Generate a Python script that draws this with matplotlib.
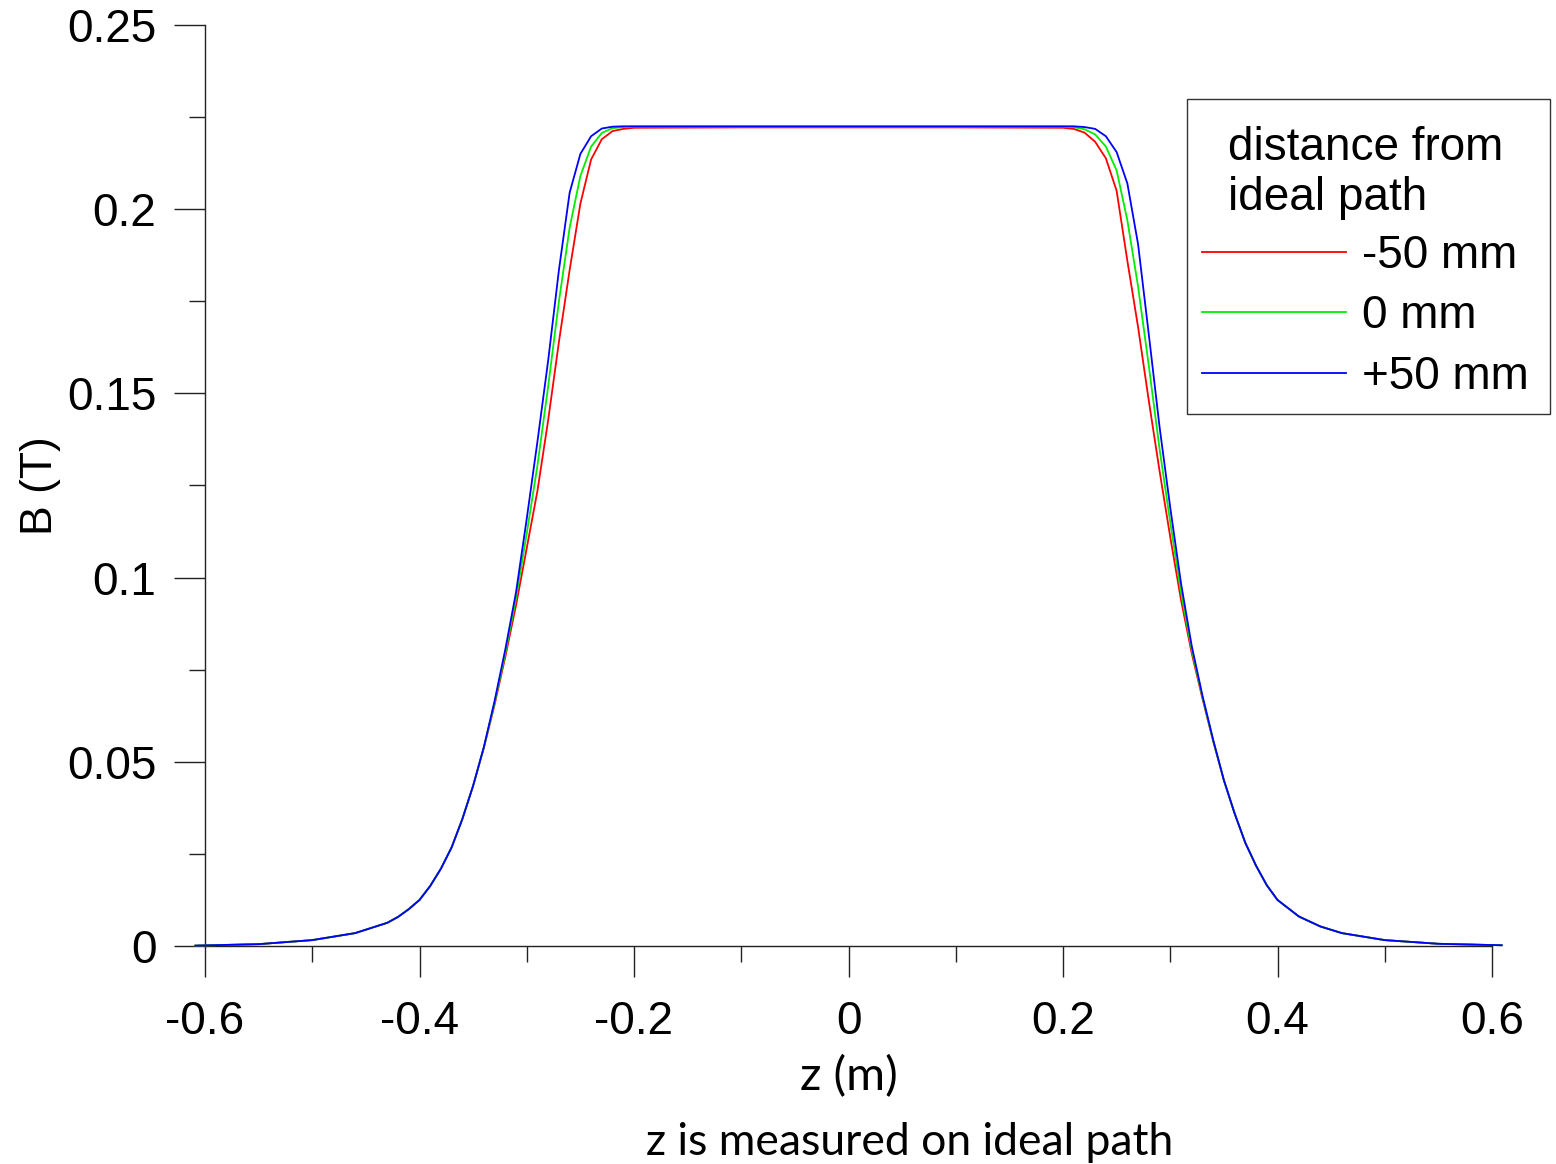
import matplotlib
matplotlib.use("Agg")
import matplotlib.pyplot as plt
from matplotlib.patches import Rectangle
from matplotlib.ticker import MultipleLocator

# ---------------- data ----------------
z = [-0.609, -0.55, -0.50, -0.46, -0.43, -0.42, -0.41,
     -0.40, -0.39, -0.38, -0.37, -0.36, -0.35, -0.34, -0.33, -0.32, -0.31,
     -0.30, -0.29, -0.28, -0.27, -0.26, -0.25, -0.24, -0.23, -0.22, -0.21,
     -0.20, -0.10, 0.00, 0.10,
     0.20, 0.21, 0.22, 0.23, 0.24, 0.25, 0.26, 0.27, 0.28, 0.29,
     0.30, 0.31, 0.32, 0.33, 0.34, 0.35, 0.36, 0.37, 0.38, 0.39,
     0.40, 0.42, 0.44, 0.46, 0.50, 0.55, 0.609]

b_minus50 = [0.0001, 0.0005, 0.0016, 0.0035, 0.0063, 0.0079, 0.0100,
             0.0125, 0.0163, 0.0210, 0.0268, 0.0345, 0.0435, 0.0538, 0.0655, 0.0785, 0.0925,
             0.1080, 0.1236, 0.1428, 0.1640, 0.1835, 0.2015, 0.2135, 0.2190, 0.2212, 0.2218,
             0.2221, 0.2222, 0.2222, 0.2222,
             0.2221, 0.2218, 0.2208, 0.2183, 0.2138, 0.2050, 0.1860, 0.1680, 0.1480, 0.1290,
             0.1110, 0.0940, 0.0795, 0.0672, 0.0556, 0.0450, 0.0360, 0.0280, 0.0218, 0.0165,
             0.0125, 0.0080, 0.0053, 0.0035, 0.0016, 0.0006, 0.0002]

b_0 = [0.0001, 0.0005, 0.0016, 0.0035, 0.0063, 0.0079, 0.0100,
       0.0125, 0.0163, 0.0210, 0.0268, 0.0345, 0.0435, 0.0539, 0.0660, 0.0795, 0.0945,
       0.1120, 0.1305, 0.1520, 0.1750, 0.1950, 0.2090, 0.2170, 0.2207, 0.2220, 0.2223,
       0.2224, 0.2224, 0.2224, 0.2224,
       0.2224, 0.2223, 0.2217, 0.2203, 0.2170, 0.2105, 0.1970, 0.1790, 0.1575, 0.1350,
       0.1150, 0.0960, 0.0805, 0.0676, 0.0558, 0.0450, 0.0360, 0.0280, 0.0218, 0.0165,
       0.0125, 0.0080, 0.0053, 0.0035, 0.0016, 0.0006, 0.0002]

b_plus50 = [0.0001, 0.0005, 0.0016, 0.0035, 0.0063, 0.0079, 0.0100,
            0.0125, 0.0163, 0.0210, 0.0268, 0.0345, 0.0435, 0.0540, 0.0665, 0.0805, 0.0960,
            0.1160, 0.1370, 0.1590, 0.1835, 0.2045, 0.2150, 0.2198, 0.2219, 0.2224, 0.2225,
            0.2225, 0.2225, 0.2225, 0.2225,
            0.2225, 0.2225, 0.2223, 0.2218, 0.2198, 0.2155, 0.2070, 0.1905, 0.1660, 0.1410,
            0.1190, 0.0985, 0.0815, 0.0680, 0.0560, 0.0450, 0.0360, 0.0280, 0.0218, 0.0165,
            0.0125, 0.0080, 0.0053, 0.0035, 0.0016, 0.0006, 0.0002]

series_labels = ["-50 mm", "0 mm", "+50 mm"]
series_colors = ["#ff0000", "#00ee00", "#0000ff"]
x_ticks = [-0.6, -0.4, -0.2, 0, 0.2, 0.4, 0.6]
x_ticklabels = ["-0.6", "-0.4", "-0.2", "0", "0.2", "0.4", "0.6"]
y_ticks = [0, 0.05, 0.1, 0.15, 0.2, 0.25]
y_ticklabels = ["0", "0.05", "0.1", "0.15", "0.2", "0.25"]

# ---------------- figure ----------------
W, H = 1556, 1164
fig = plt.figure(figsize=(W / 100, H / 100), dpi=100)
ax_l, ax_r, ax_t, ax_b = 205, 1492, 25, 946
ax = fig.add_axes([ax_l / W, 1 - ax_b / H, (ax_r - ax_l) / W, (ax_b - ax_t) / H])

arial = "Liberation Sans"
calib = "Lato"

lines = []
for vals, lab, col in zip([b_minus50, b_0, b_plus50], series_labels, series_colors):
    ln, = ax.plot(z, vals, color=col, lw=1.3, label=lab, clip_on=False, zorder=3)
    lines.append(ln)

ax.set_xlim(-0.6, 0.6)
ax.set_ylim(0, 0.25)
for s in ["top", "right"]:
    ax.spines[s].set_visible(False)
for s in ["left", "bottom"]:
    ax.spines[s].set_linewidth(1.0)
    ax.spines[s].set_color("#222222")

ax.set_xticks(x_ticks)
ax.set_xticklabels(x_ticklabels)
ax.set_yticks(y_ticks)
ax.set_yticklabels(y_ticklabels)
ax.xaxis.set_minor_locator(MultipleLocator(0.1))
ax.yaxis.set_minor_locator(MultipleLocator(0.025))
ax.tick_params(which="major", direction="out", length=22, width=1.0, color="#222222",
               labelsize=33)
ax.tick_params(which="minor", direction="out", length=11.5, width=1.0, color="#222222")
ax.tick_params(axis="x", which="major", pad=17)
ax.tick_params(axis="y", which="major", pad=13)
for lab in ax.get_xticklabels() + ax.get_yticklabels():
    lab.set_fontfamily(arial)

ax.set_ylabel("B (T)", fontsize=32, fontfamily=arial)
ax.yaxis.set_label_coords(-(ax_l - 40) / (ax_r - ax_l), 0.5)
ax.yaxis.label.set_va("center")

ax.set_xlabel("z (m)", fontsize=34, fontfamily=calib)
ax.xaxis.set_label_coords(0.5, -(1090 - ax_b) / (ax_b - ax_t))
ax.xaxis.label.set_va("baseline")

fig.text(910 / W, 1 - 1155 / H, "z is measured on ideal path", fontsize=32,
         fontfamily=calib, ha="center", va="baseline")

# legend frame and title
fig.patches.append(Rectangle((1187 / W, 1 - 414 / H), (1550 - 1187) / W, (414 - 99) / H,
                             transform=fig.transFigure, fill=False, ec="#333333", lw=1.0))
fig.text(1228 / W, 1 - 160 / H, "distance from", fontsize=33, fontfamily=arial,
         ha="left", va="baseline")
fig.text(1228 / W, 1 - 210 / H, "ideal path", fontsize=33, fontfamily=arial,
         ha="left", va="baseline")
leg = ax.legend(handles=lines, loc="upper left", bbox_to_anchor=(1202 / W, 1 - 234 / H),
                bbox_transform=fig.transFigure, frameon=False, borderpad=0,
                borderaxespad=0, handlelength=3.15, handletextpad=0.35,
                labelspacing=0.36, prop={"family": arial, "size": 33})

fig.savefig("out.png", dpi=100)
